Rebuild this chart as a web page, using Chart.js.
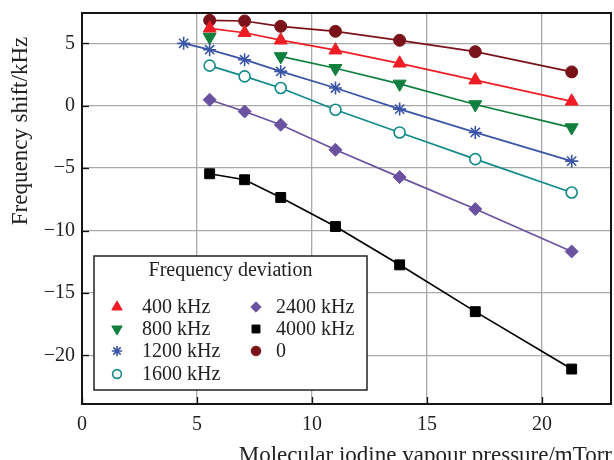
<!DOCTYPE html>
<html><head><meta charset="utf-8">
<script src="https://cdn.jsdelivr.net/npm/chart.js@4.4.1/dist/chart.umd.min.js"></script>
<style>html,body{margin:0;padding:0;background:#fff}#wrap{position:relative;width:614px;height:460px}</style>
</head><body><div id="wrap"><canvas id="c" width="614" height="460"></canvas></div>
<script>
// ---- data ----
const pressure      = [5.55, 7.07, 8.64, 11.02, 13.81, 17.1, 21.29];
const pressure1200  = [4.42, 5.55, 7.07, 8.64, 11.02, 13.81, 17.1, 21.29];
const pressure800   = [5.55, 8.64, 11.02, 13.81, 17.1, 21.29];
const shift400  = [6.2, 5.85, 5.25, 4.45, 3.4, 2.05, 0.35];
const shift800  = [5.5, 3.95, 3.0, 1.75, 0.1, -1.75];
const shift1200 = [5.0, 4.49, 3.69, 2.75, 1.42, -0.27, -2.14, -4.44];
const shift1600 = [3.21, 2.35, 1.42, -0.32, -2.14, -4.28, -6.95];
const shift2400 = [0.48, -0.46, -1.52, -3.53, -5.72, -8.28, -11.68];
const shift4000 = [-5.45, -5.93, -7.35, -9.68, -12.75, -16.5, -21.1];
const shift0    = [6.84, 6.79, 6.36, 5.96, 5.24, 4.33, 2.71];
const xTicks = [0, 5, 10, 15, 20];
const yTicks = [-20, -15, -10, -5, 0, 5];
const xTitle = 'Molecular iodine vapour pressure/mTorr';
const yTitle = 'Frequency shift/kHz';
const legendTitle = 'Frequency deviation';

const SERIF = '"Liberation Serif", "DejaVu Serif", serif';
const pts = (xs, ys) => xs.map((x, i) => ({x, y: ys[i]}));

function ds(label, xs, ys, color, style, extra) {
  return Object.assign({
    label, data: pts(xs, ys),
    borderColor: color, backgroundColor: color,
    pointBackgroundColor: color, pointBorderColor: color,
    pointStyle: style, pointRadius: 6, pointBorderWidth: 1,
    borderWidth: 1.7, showLine: true, tension: 0
  }, extra || {});
}

const datasets = [
  ds('4000 kHz', pressure, shift4000, '#000000', 'rect', {pointRadius: 7}),
  ds('2400 kHz', pressure, shift2400, '#6b52a1', 'rectRot', {pointRadius: 6.5}),
  ds('1600 kHz', pressure, shift1600, '#128a8a', 'circle', {pointRadius: 5.5, pointBackgroundColor: '#ffffff', pointBorderWidth: 1.6}),
  ds('1200 kHz', pressure1200, shift1200, '#3a55a6', 'star', {pointRadius: 6.5, pointBorderWidth: 1.6}),
  ds('800 kHz', pressure800, shift800, '#0f7f3d', 'triangle', {pointRadius: 7.5, pointRotation: 180,
     segment: {borderColor: c => c.p0DataIndex === 0 ? 'rgba(0,0,0,0)' : '#0f7f3d'}}),
  ds('400 kHz', pressure, shift400, '#ee1d25', 'triangle', {pointRadius: 7.5}),
  ds('0', pressure, shift0, '#7a1319', 'circle', {pointRadius: 6})
];

const legendCols = [['400 kHz', '800 kHz', '1200 kHz', '1600 kHz'], ['2400 kHz', '4000 kHz', '0']];

function drawMarker(ctx, d, x, y, scale) {
  const opts = {
    pointStyle: d.pointStyle, rotation: d.pointRotation || 0,
    radius: d.pointRadius * scale, borderWidth: d.pointBorderWidth
  };
  ctx.save();
  ctx.fillStyle = d.pointBackgroundColor;
  ctx.strokeStyle = d.pointBorderColor;
  ctx.lineWidth = d.pointBorderWidth;
  Chart.helpers.drawPoint(ctx, opts, x, y);
  ctx.restore();
}

const decor = {
  id: 'decor',
  beforeDatasetsDraw(chart) {
    const {ctx, chartArea: a, scales} = chart;
    ctx.save();
    ctx.strokeStyle = '#111'; ctx.lineWidth = 1.3;
    scales.x.ticks.forEach(t => {
      const px = Math.round(scales.x.getPixelForValue(t.value)) + 0.5;
      ctx.beginPath(); ctx.moveTo(px, a.bottom); ctx.lineTo(px, a.bottom - 7); ctx.stroke();
    });
    scales.y.ticks.forEach(t => {
      const py = Math.round(scales.y.getPixelForValue(t.value)) + 0.5;
      ctx.beginPath(); ctx.moveTo(a.left, py); ctx.lineTo(a.left + 7, py); ctx.stroke();
    });
    ctx.lineWidth = 2; ctx.strokeStyle = '#151515';
    ctx.strokeRect(a.left, a.top, a.right - a.left, a.bottom - a.top);
    ctx.restore();
  },
  afterDraw(chart) {
    const {ctx, chartArea: a} = chart;
    ctx.save();
    // axis titles
    ctx.fillStyle = '#222';
    ctx.font = '23px ' + SERIF;
    ctx.textAlign = 'right'; ctx.textBaseline = 'alphabetic';
    ctx.fillText(xTitle, a.right + 1, 462);
    ctx.save();
    ctx.translate(27, 131); ctx.rotate(-Math.PI / 2);
    ctx.textAlign = 'center';
    ctx.fillText(yTitle, 0, 0);
    ctx.restore();
    // legend box
    const L = 94, T = 256, W = 273, H = 134;
    ctx.fillStyle = '#fff'; ctx.fillRect(L, T, W, H);
    ctx.strokeStyle = '#222'; ctx.lineWidth = 1.5; ctx.strokeRect(L, T, W, H);
    ctx.fillStyle = '#222';
    ctx.font = '20px ' + SERIF;
    ctx.textAlign = 'center'; ctx.textBaseline = 'middle';
    ctx.fillText(legendTitle, L + W / 2, 271);
    ctx.textAlign = 'left';
    const rows = [307, 329, 351, 374];
    const colX = [[117, 142], [256, 276]];
    legendCols.forEach((col, ci) => col.forEach((lab, ri) => {
      const d = chart.data.datasets.find(s => s.label === lab);
      drawMarker(ctx, d, colX[ci][0], rows[ri], 0.8);
      ctx.fillStyle = '#222';
      ctx.fillText(lab, colX[ci][1], rows[ri] + 1);
    }));
    ctx.restore();
  }
};

const minus = v => String(v).replace('-', '\u2212');
const noPad = s => { s.paddingLeft = 0; s.paddingRight = 0; s.paddingTop = 0; s.paddingBottom = 0; };

new Chart(document.getElementById('c'), {
  type: 'scatter',
  data: {datasets},
  options: {
    responsive: false, animation: false,
    layout: {autoPadding: false, padding: {top: 13, right: 3, left: 0, bottom: 0}},
    plugins: {legend: {display: false}, tooltip: {enabled: false}},
    scales: {
      x: {
        type: 'linear', min: 0, max: 23,
        afterFit: s => { s.height = 56; noPad(s); },
        afterBuildTicks: s => { s.ticks = xTicks.map(v => ({value: v})); },
        grid: {color: '#a9a9a9', lineWidth: 1.3, drawTicks: false},
        border: {display: false},
        ticks: {padding: 9, color: '#222', font: {family: SERIF, size: 20}, callback: minus, maxRotation: 0}
      },
      y: {
        type: 'linear', min: -23.9, max: 7.43,
        afterFit: s => { s.width = 82; noPad(s); },
        afterBuildTicks: s => { s.ticks = yTicks.map(v => ({value: v})); },
        grid: {color: '#a9a9a9', lineWidth: 1.3, drawTicks: false},
        border: {display: false},
        ticks: {padding: 7, color: '#222', font: {family: SERIF, size: 20}, callback: minus}
      }
    }
  },
  plugins: [decor]
});
</script>
</body></html>
